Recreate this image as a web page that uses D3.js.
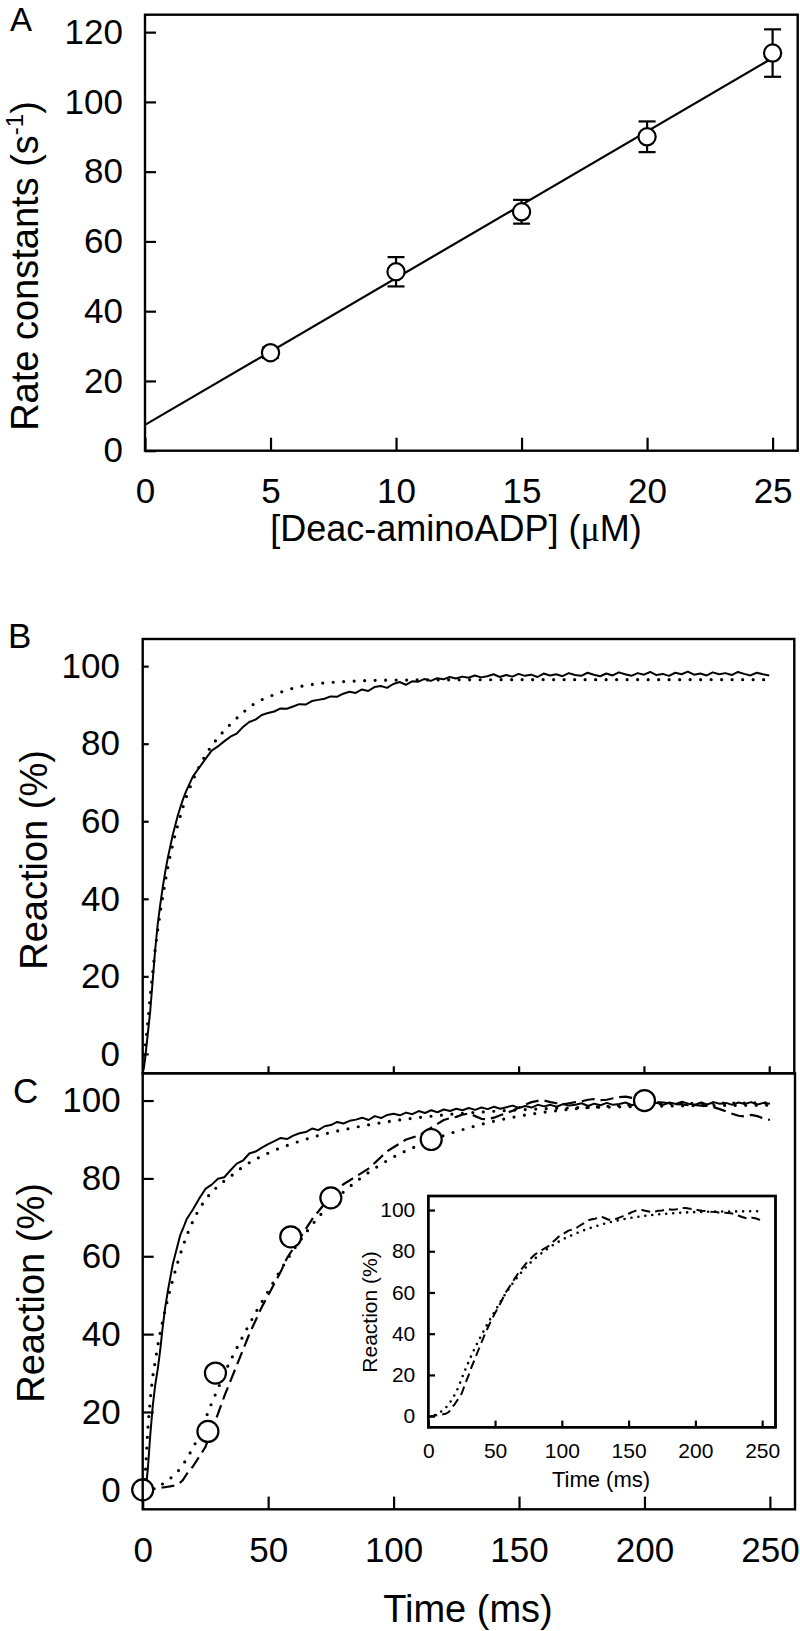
<!DOCTYPE html>
<html lang="en">
<head>
<meta charset="UTF-8">
<title>Deac-aminoADP kinetics</title>
<script src="https://d3js.org/d3.v7.min.js"></script>
<style>
  body { margin: 0; background: #fff; }
</style>
</head>
<body>
<svg id="chart" width="800" height="1631"></svg>
<script>
// ---- panel A: rate constants vs concentration ----
const aConc = [5, 10, 15, 20, 25];
const aRate = [28.1, 51.3, 68.5, 90.0, 114.0];
const aErr = [1.5, 4.2, 3.4, 4.4, 6.8];
const aFitConc = [0, 25];
const aFitRate = [7.4, 112.6];
const aXTicks = [0, 5, 10, 15, 20, 25];
const aYTicks = [0, 20, 40, 60, 80, 100, 120];

// ---- panels B / C: time courses ----
const timeTicks = [0, 50, 100, 150, 200, 250];
const pctTicks = [0, 20, 40, 60, 80, 100];

// sampling times of the recorded traces (ms)
const traceTime = [0, 0.5, 1, 1.5, 2, 3, 4, 5, 6, 7, 8, 9, 10, 11, 12, 13, 14, 15, 16, 17.5,
  20, 22.5, 25, 27.5, 30, 32.5, 35, 37.5,
  40, 42.5, 45, 47.5, 50, 52.5, 55, 57.5,
  60, 62.5, 65, 67.5, 70, 72.5, 75, 77.5,
  80, 82.5, 85, 87.5, 90, 92.5, 95, 97.5,
  100, 102.5, 105, 107.5, 110, 112.5, 115, 117.5,
  120, 122.5, 125, 127.5, 130, 132.5, 135, 137.5,
  140, 142.5, 145, 147.5, 150, 152.5, 155, 157.5,
  160, 162.5, 165, 167.5, 170, 172.5, 175, 177.5,
  180, 182.5, 185, 187.5, 190, 192.5, 195, 197.5,
  200, 202.5, 205, 207.5, 210, 212.5, 215, 217.5,
  220, 222.5, 225, 227.5, 230, 232.5, 235, 237.5,
  240, 242.5, 245, 247.5, 250];

// B: fluorescence trace (%)
const bTrace = [-5, -3.5, -1, 2, 5, 11, 19, 27, 33.5, 38.5, 43, 47, 50.5, 53.5, 56.5, 59, 61.5, 63.5, 65.5, 68,
  71.5, 73.8, 76.0, 78.2, 79.3, 80.6, 81.8, 82.6,
  84.3, 85.6, 86.2, 87.4, 87.9, 88.3, 89.1, 89.0,
  89.6, 90.2, 90.1, 91.0, 91.3, 91.6, 92.2, 92.1,
  92.9, 93.4, 93.1, 94.0, 93.6, 94.6, 94.9, 94.4,
  95.4, 95.9, 95.2, 96.1, 96.0, 96.7, 96.2, 96.9,
  96.6, 97.2, 96.8, 97.3, 97.0, 97.6, 97.1, 97.4,
  97.9, 97.2, 97.7, 97.3, 98.0, 97.5, 97.8, 97.2,
  98.1, 97.6, 97.9, 97.4, 98.2, 97.7, 97.5, 98.3,
  97.8, 97.4, 98.1, 97.6, 98.4, 97.9, 97.5, 98.2,
  97.8, 98.5, 97.7, 98.0, 97.5, 98.3, 97.9, 98.6,
  97.8, 98.1, 97.6, 98.4, 97.9, 98.2, 97.7, 98.5,
  98.0, 97.6, 98.3, 97.9, 97.6];

// B: simulated fit (%)
const bFitTime = [0, 1, 2, 3, 4, 5, 6, 8, 10, 12, 14, 16, 20, 25, 30, 35, 40, 45, 50, 60, 70, 80, 100, 150, 200, 250];
const bFit = [-3, 2, 8, 15, 21, 27, 32, 40.5, 48, 54, 59, 63.5, 70.5, 77, 81.5, 85, 88, 90.5, 92, 94.3, 95.5, 96, 96.4, 96.5, 96.5, 96.5];

// C: fast trace (%)
const cFastTrace = [-1, -0.5, 0.5, 2, 5, 14, 21.5, 27, 31, 36, 42, 47, 51, 54.5, 58, 60.5, 63, 65.5, 67, 69.5,
  72.0, 74.8, 77.3, 78.4, 79.9, 80.3, 82.1, 83.8,
  84.6, 86.4, 86.9, 87.9, 88.8, 89.6, 90.4, 90.1,
  91.0, 91.6, 91.9, 92.8, 92.4, 93.4, 93.7, 94.5,
  94.1, 94.8, 95.1, 95.6, 95.0, 96.0, 95.5, 96.3,
  96.6, 96.2, 96.9, 96.5, 97.3, 96.8, 97.5, 97.0,
  97.7, 97.3, 97.9, 97.5, 98.1, 97.6, 98.2, 97.8,
  98.4, 97.9, 98.3, 98.7, 98.1, 98.6, 98.2, 98.9,
  98.5, 98.9, 98.4, 99.1, 98.7, 98.9, 99.3, 98.6,
  99.2, 98.8, 99.4, 98.9, 99.1, 99.5, 98.8, 99.3,
  99.6, 99.0, 99.4, 98.9, 99.5, 99.1, 99.7, 99.2,
  98.9, 99.5, 99.0, 99.6, 99.2, 99.4, 98.9, 99.5,
  99.1, 99.6, 99.0, 99.4, 99.2];

// C: slow trace (%)
const cSlowTrace = [0, 0, 0, 0, 0, 0.1, 0.2, 0.3, 0.4, 0.5, 0.6, 0.7, 0.8, 0.9, 1.0, 1.2, 1.5, 1.9, 2.5, 4.0,
  6.0, 8.5, 11.0, 15.5, 19.5, 24.0, 28.0, 32.0,
  36.0, 40.0, 43.5, 47.0, 50.0, 53.0, 56.0, 59.5,
  62.0, 64.5, 67.0, 69.5, 71.5, 73.5, 75.5, 77.0,
  78.5, 79.5, 80.5, 81.5, 82.5, 84.0, 85.5, 87.0,
  88.0, 89.0, 90.0, 90.5, 91.0, 92.0, 93.0, 94.0,
  95.0, 95.5, 95.8, 96.4, 96.7, 96.0, 95.3, 95.2,
  95.6, 96.2, 96.8, 97.4, 98.2, 99.0, 99.6, 99.9,
  100.0, 99.6, 99.3, 99.0, 99.3, 99.6, 99.8, 100.2,
  100.4, 100.1, 100.2, 100.6, 100.9, 101.0, 100.7, 100.5,
  100.2, 99.9, 99.6, 99.5, 99.3, 99.1, 99.0, 98.8,
  98.9, 98.7, 98.6, 98.3, 97.8, 97.2, 96.6, 96.1,
  95.9, 96.3, 96.0, 95.4, 95.0];

// C: fits (%)
const cFastFitTime = [0, 1, 2, 3, 4, 5, 6, 8, 10, 12, 14, 16, 18, 20, 25, 30, 35, 40, 50, 60, 70, 80, 100, 120, 150, 200, 250];
const cFastFit = [0, 4, 15, 23, 29, 33, 37, 43.5, 49, 54, 58.5, 62.5, 66, 69, 74.5, 78, 80.5, 83, 86.5, 89, 91, 92.5, 94.8, 96.3, 97.6, 98.5, 98.8];
const cSlowFitTime = [0, 3, 6, 9, 12, 15, 18, 21, 24, 27, 30, 33, 36, 40, 45, 50, 55, 60, 65, 70, 75, 80, 90, 100, 110, 120, 130, 140, 150, 165, 180, 200, 225, 250];
const cSlowFit = [0, 0.2, 0.8, 2, 3.5, 5.5, 8.5, 12, 16.5, 21.5, 26, 30.5, 34.5, 39.5, 45.5, 51, 56.5, 61.5, 66, 70, 73.5, 76.5, 81.5, 85.5, 88.5, 91, 93, 94.7, 96, 97.4, 98.3, 99, 99.3, 99.4];

// C: quench-flow points (%)
const cPointTime = [0, 26, 29, 59, 75, 115, 200];
const cPointValue = [0, 15, 30, 65, 75, 90, 100];

const font = "'Liberation Sans', Arial, Helvetica, sans-serif";
const svg = d3.select("#chart");

function frame(x, y, fill) {
    svg.append("rect")
        .attr("x", x.range()[0])
        .attr("y", y.range()[1])
        .attr("width", x.range()[1] - x.range()[0])
        .attr("height", y.range()[0] - y.range()[1])
        .attr("fill", fill || "none")
        .attr("stroke", "#000")
        .attr("stroke-width", 2.4);
}

function axis(gen, transform, fontSize) {
    const g = svg.append("g").attr("transform", transform).call(gen);
    g.select(".domain").remove();
    g.attr("font-family", font).attr("font-size", fontSize);
    g.selectAll(".tick line").attr("stroke", "#000").attr("stroke-width", 2.2);
    g.selectAll(".tick text").attr("fill", "#000");
    return g;
}

function label(text, x, y, size, rotate) {
    return svg.append("text")
        .attr("transform", `translate(${x},${y})` + (rotate ? " rotate(-90)" : ""))
        .attr("text-anchor", rotate === null ? "start" : "middle")
        .attr("font-family", font)
        .attr("font-size", size)
        .text(text);
}

function clip(id, x, y) {
    svg.append("clipPath").attr("id", id).append("rect")
        .attr("x", x.range()[0]).attr("y", y.range()[1])
        .attr("width", x.range()[1] - x.range()[0])
        .attr("height", y.range()[0] - y.range()[1]);
}

function curve(x, y, t, v, style, clipId, smooth) {
    const line = d3.line()
        .x(d => x(d[0]))
        .y(d => y(d[1]))
        .curve(smooth ? d3.curveMonotoneX : d3.curveLinear);
    const p = svg.append("path")
        .datum(d3.zip(t, v))
        .attr("d", line)
        .attr("fill", "none")
        .attr("stroke", "#000")
        .attr("stroke-linejoin", "round")
        .attr("clip-path", `url(#${clipId})`);
    if (style === "solid") p.attr("stroke-width", 2);
    if (style === "dot") p.attr("stroke-width", 3.2).attr("stroke-linecap", "round").attr("stroke-dasharray", "0,10.5");
    if (style === "dash") p.attr("stroke-width", 2.2).attr("stroke-dasharray", "13,6");
    if (style === "dotSmall") p.attr("stroke-width", 2.6).attr("stroke-linecap", "round").attr("stroke-dasharray", "0,7");
    if (style === "dashSmall") p.attr("stroke-width", 2).attr("stroke-dasharray", "9,5");
    return p;
}

// ================= Panel A =================
const xA = d3.scaleLinear().domain([0, 26]).range([145, 797.7]);
const yA = d3.scaleLinear().domain([0, 125]).range([450.7, 14.7]);

axis(d3.axisLeft(yA).tickValues(aYTicks).tickSize(-11).tickPadding(22), `translate(${xA.range()[0]},0)`, 35);
axis(d3.axisBottom(xA).tickValues(aXTicks).tickSize(-13).tickPadding(27.6), `translate(0,${yA.range()[0]})`, 35);

svg.append("path")
    .datum(d3.zip(aFitConc, aFitRate))
    .attr("d", d3.line().x(d => xA(d[0])).y(d => yA(d[1])))
    .attr("stroke", "#000").attr("stroke-width", 2.2).attr("fill", "none");

const aPts = d3.zip(aConc, aRate, aErr);
const bars = svg.append("g").attr("stroke", "#000").attr("stroke-width", 2.2);
bars.selectAll(".eb").data(aPts).enter().append("line")
    .attr("x1", d => xA(d[0])).attr("x2", d => xA(d[0]))
    .attr("y1", d => yA(d[1] - d[2])).attr("y2", d => yA(d[1] + d[2]));
bars.selectAll(".capTop").data(aPts).enter().append("line")
    .attr("x1", d => xA(d[0]) - 8.5).attr("x2", d => xA(d[0]) + 8.5)
    .attr("y1", d => yA(d[1] + d[2])).attr("y2", d => yA(d[1] + d[2]));
bars.selectAll(".capBot").data(aPts).enter().append("line")
    .attr("x1", d => xA(d[0]) - 8.5).attr("x2", d => xA(d[0]) + 8.5)
    .attr("y1", d => yA(d[1] - d[2])).attr("y2", d => yA(d[1] - d[2]));

svg.selectAll(".ptA").data(aPts).enter().append("circle")
    .attr("cx", d => xA(d[0])).attr("cy", d => yA(d[1])).attr("r", 8.6)
    .attr("fill", "#fff").attr("stroke", "#000").attr("stroke-width", 2.2);

frame(xA, yA);

const aYLab = label("Rate constants (s", 38, 266, 38, true);
aYLab.append("tspan").attr("font-size", 24).attr("dy", -15).text("-1");
aYLab.append("tspan").attr("dy", 15).text(")");

const aXLab = label("[Deac-aminoADP] (", 456, 541, 36, false);
aXLab.append("tspan").attr("font-family", "'Liberation Serif', serif").text("μ");
aXLab.append("tspan").text("M)");

label("A", 10, 31, 33, null);

// ================= Panel B =================
const xB = d3.scaleLinear().domain([0, 260]).range([142.7, 794.3]);
const yB = d3.scaleLinear().domain([-5, 107]).range([1073.3, 639]);
clip("clipB", xB, yB);

axis(d3.axisLeft(yB).tickValues(pctTicks).tickSize(-6).tickPadding(22.7), `translate(${xB.range()[0]},0)`, 35);
axis(d3.axisBottom(xB).tickValues(timeTicks.slice(1)).tickSize(-7).tickFormat(""), `translate(0,${yB.range()[0]})`, 35);

curve(xB, yB, bFitTime, bFit, "dot", "clipB", true);
curve(xB, yB, traceTime, bTrace, "solid", "clipB", false);

frame(xB, yB);
label("Reaction (%)", 47, 860, 38, true);
label("B", 8, 648, 35, null);

// ================= Panel C =================
const xC = d3.scaleLinear().domain([0, 260]).range([142.7, 795]);
const yC = d3.scaleLinear().domain([-5, 107]).range([1509.3, 1073.3]);
clip("clipC", xC, yC);

axis(d3.axisLeft(yC).tickValues(pctTicks).tickSize(-11).tickPadding(22), `translate(${xC.range()[0]},0)`, 35);
axis(d3.axisBottom(xC).tickValues(timeTicks).tickSize(-12.7).tickPadding(27.4), `translate(0,${yC.range()[0]})`, 35);

curve(xC, yC, cFastFitTime, cFastFit, "dot", "clipC", true);
curve(xC, yC, cSlowFitTime, cSlowFit, "dot", "clipC", true);
curve(xC, yC, traceTime, cFastTrace, "solid", "clipC", false);
curve(xC, yC, traceTime, cSlowTrace, "dash", "clipC", false);

// inset
const xI = d3.scaleLinear().domain([0, 260]).range([428.3, 775.5]);
const yI = d3.scaleLinear().domain([-5.4, 106.8]).range([1427.3, 1196]);
clip("clipI", xI, yI);
frame(xI, yI, "#fff");
axis(d3.axisLeft(yI).tickValues(pctTicks).tickSize(-6.7).tickPadding(13), `translate(${xI.range()[0]},0)`, 21);
axis(d3.axisBottom(xI).tickValues(timeTicks).tickSize(-6.7).tickPadding(16), `translate(0,${yI.range()[0]})`, 21);
curve(xI, yI, cSlowFitTime, cSlowFit, "dotSmall", "clipI", true);
curve(xI, yI, traceTime, cSlowTrace, "dashSmall", "clipI", false);
frame(xI, yI);
label("Time (ms)", 601, 1486.7, 22, false);
label("Reaction (%)", 377, 1312, 21, true);

svg.selectAll(".ptC").data(d3.zip(cPointTime, cPointValue)).enter().append("circle")
    .attr("cx", d => xC(d[0])).attr("cy", d => yC(d[1])).attr("r", 10.5)
    .attr("fill", "#fff").attr("stroke", "#000").attr("stroke-width", 2.2);

frame(xC, yC);
label("Reaction (%)", 44, 1293, 38, true);
label("Time (ms)", 468, 1622, 38, false);
label("C", 13, 1103, 35, null);
</script>
</body>
</html>
